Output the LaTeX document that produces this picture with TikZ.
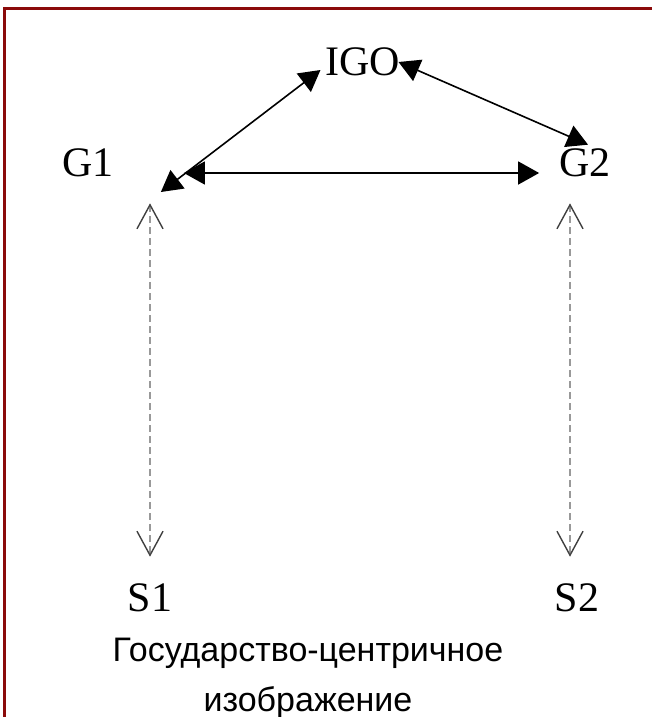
\documentclass[tikz,border=0pt]{standalone}
\usepackage{fontspec}
\setmainfont{Liberation Serif}
\setsansfont{Liberation Sans}
\usetikzlibrary{arrows.meta,positioning}
\definecolor{frame}{HTML}{8B0A0A}
\tikzset{
  actor/.style={
    inner sep=0pt,
    font=\fontsize{42}{46}\selectfont},
  capt/.style={
    inner sep=0pt,
    align=center,
    font=\sffamily\fontsize{34}{50}\selectfont},
  link/.style={draw, line width=1.6pt,
    {Triangle[length=21pt,width=23pt]}-{Triangle[length=21pt,width=23pt]}},
  dashlink/.style={draw=gray!80, line width=1.8pt, dash pattern=on 7pt off 4pt,
    {Straight Barb[length=24pt,width=26pt,line width=1.4pt,color=black!75]}-{Straight Barb[length=24pt,width=26pt,line width=1.4pt,color=black!75]}},
}

\begin{document}
\begin{tikzpicture}
  [x={(1pt,0)}, y={(0,-1pt)}]
  \useasboundingbox (0,0) rectangle (652,717);
  % frame, only top and left edges
  \draw[frame, line width=3pt] (4,717) -- (4,8.5) -- (652,8.5);

  \node[actor] (igo) at (363,62) {IGO};
  \node[actor] (g1) at (88,163) {G1};
  \node[actor] (g2) at (585,163) {G2};
  \node[actor] (s1) at (150,598) {S1};
  \node[actor] (s2) at (577,598) {S2};

  % ends of the dashed links
  \coordinate (t1) at (s1.north |- g1.south);
  \coordinate (b1) at (s1.north);
  \coordinate (t2) at ([xshift=-7pt]s2.north |- g2.south);
  \coordinate (b2) at ([xshift=-7pt]s2.north);

  \draw[link] ([xshift=47pt,yshift=-29pt]g1.east) -- ([xshift=-5pt,yshift=-8pt]igo.west);
  \draw[link] ([xshift=-2pt]igo.east) -- ([xshift=3pt,yshift=4pt]g2.north);
  \draw[link] ([xshift=70pt,yshift=-10pt]g1.east) -- ([xshift=-20pt,yshift=-10pt]g2.west);

  \draw[dashlink] ([yshift=-26pt]t1) -- ([yshift=27pt]b1);
  \draw[dashlink] ([yshift=-26pt]t2) -- ([yshift=27pt]b2);

  \node[capt] (cap) at (308,678) {Государство-центричное\\изображение};
\end{tikzpicture}
\end{document}
